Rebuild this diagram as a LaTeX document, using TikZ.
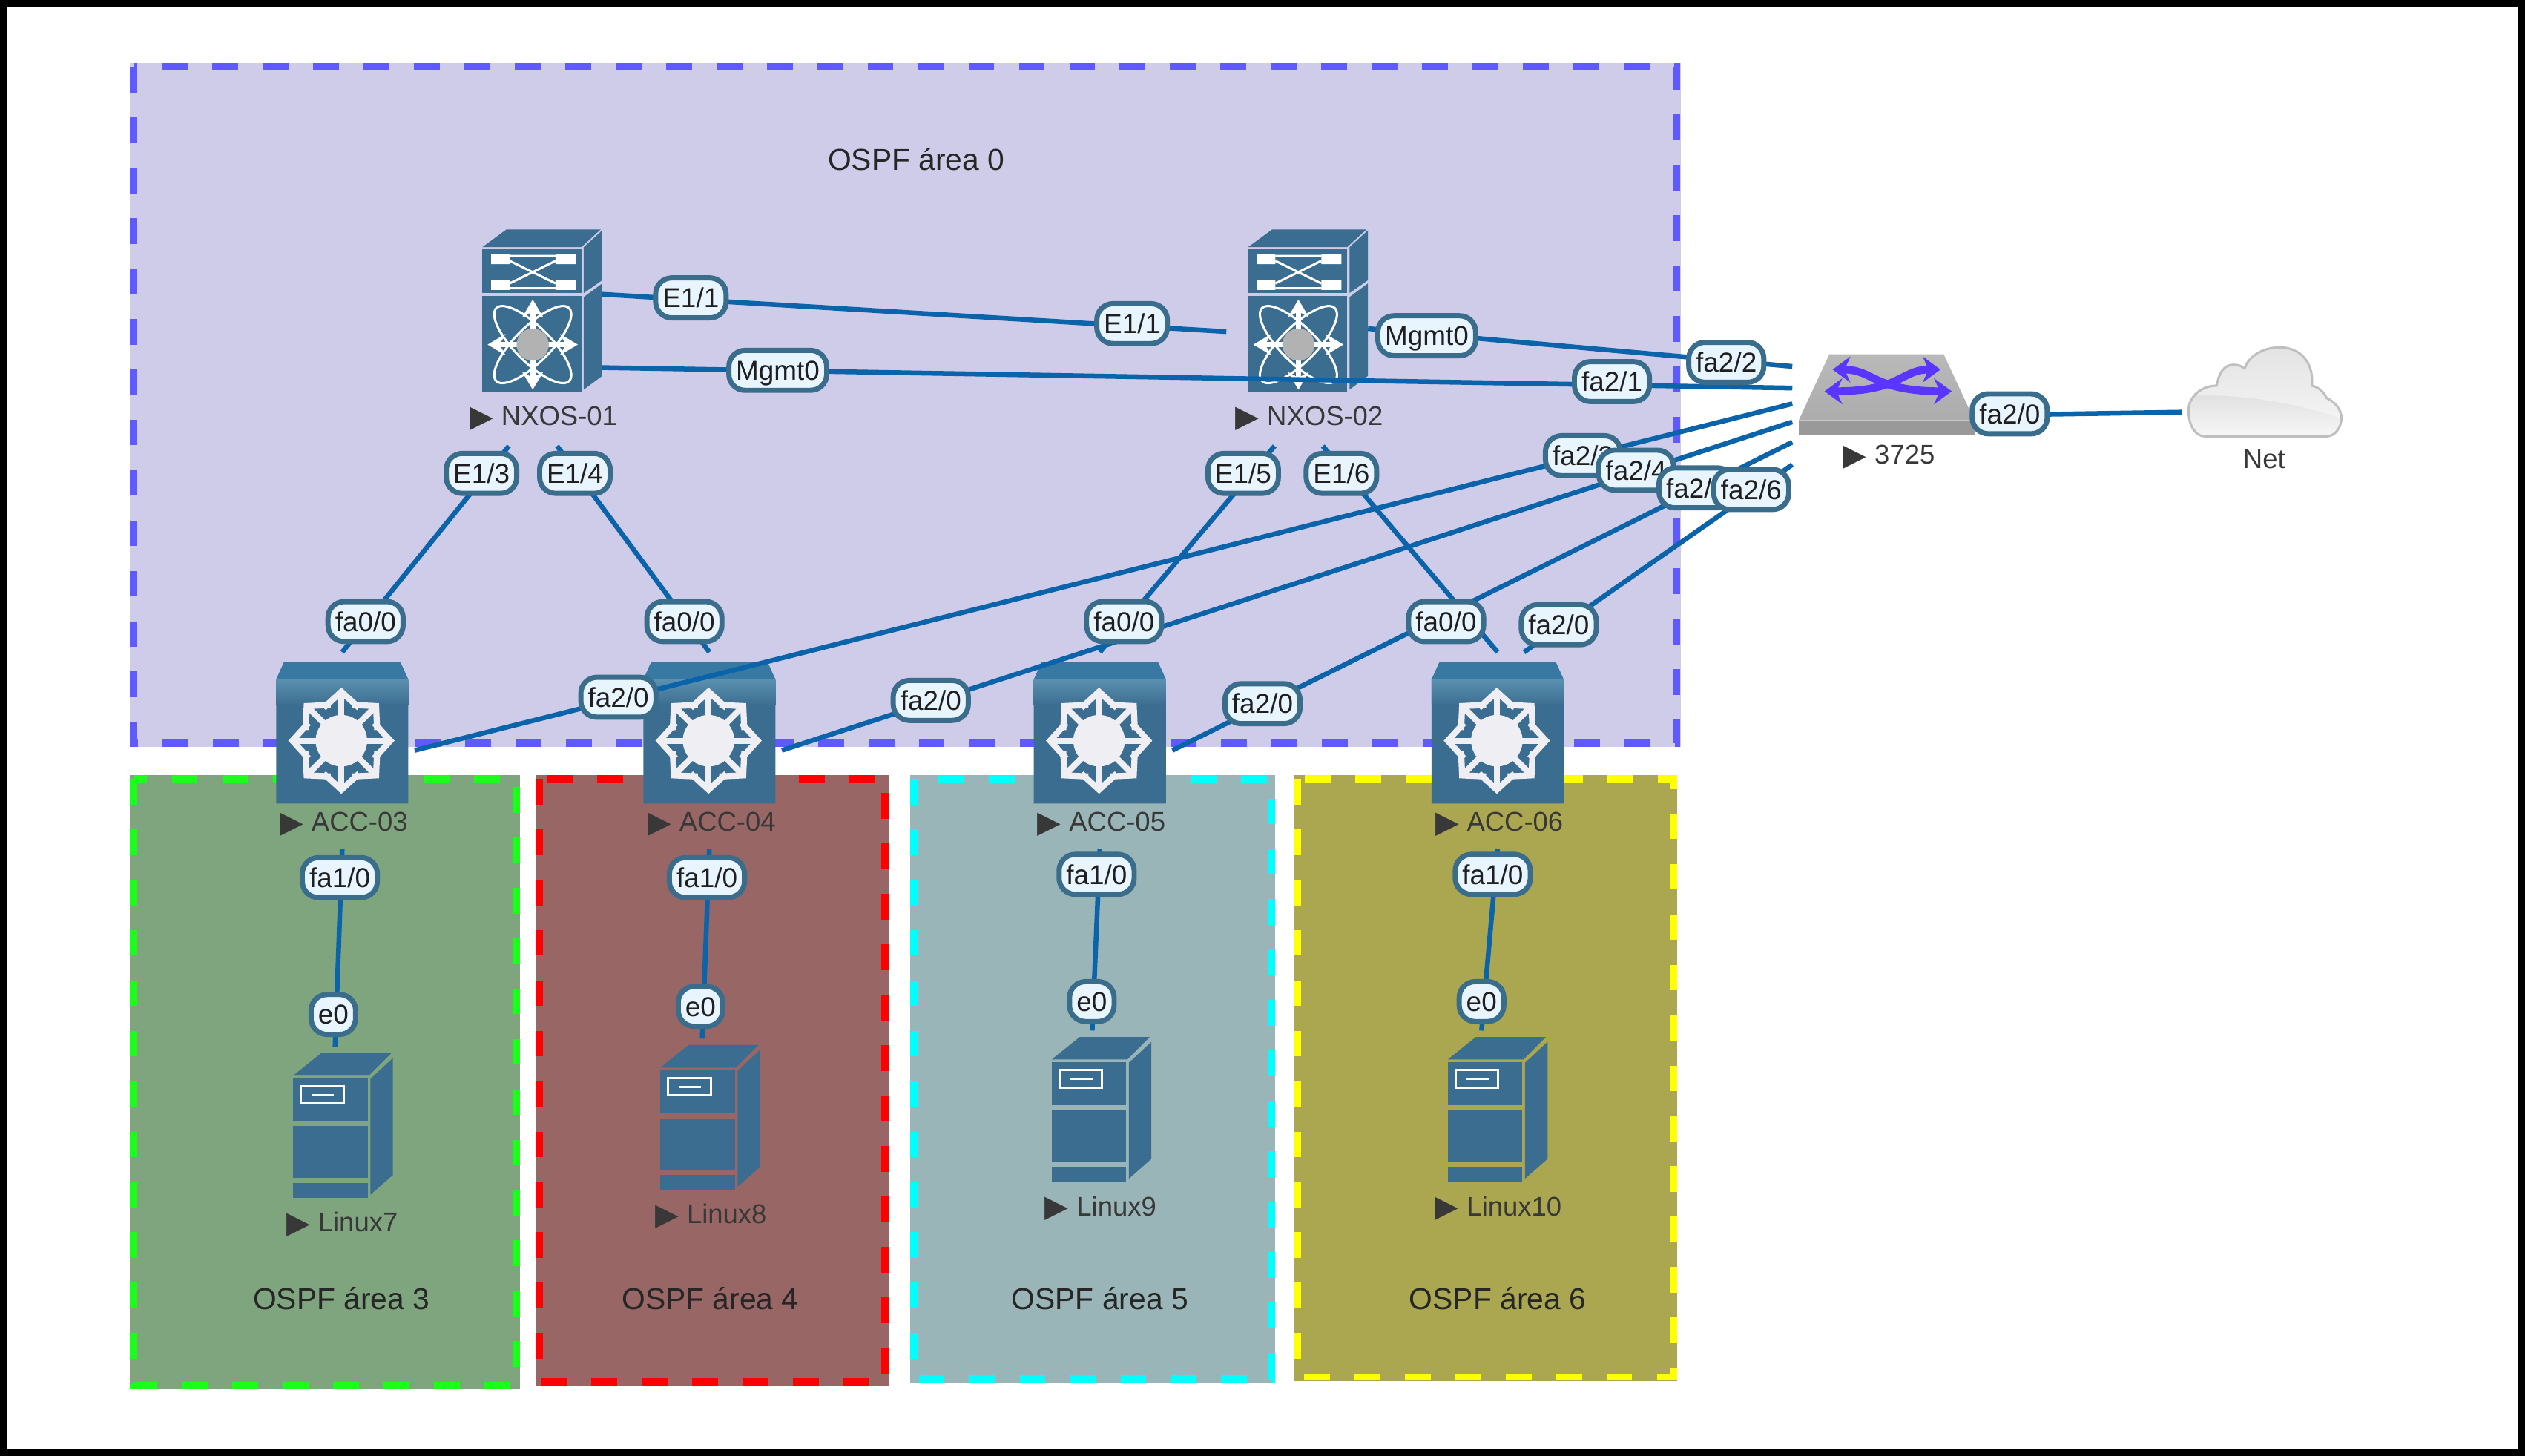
\documentclass[tikz,border=0pt]{standalone}
\usepackage{fontspec}
\setmainfont{Liberation Sans}
\newfontfamily\tagfont{DejaVu Sans}
\usetikzlibrary{arrows.meta, positioning, calc}
\definecolor{devblue}{HTML}{3A6D8F}
\definecolor{devtop}{HTML}{3779A3}
\definecolor{devband}{HTML}{5C90B0}
\definecolor{linkblue}{HTML}{0B64A9}
\definecolor{ifaceedge}{HTML}{3A6C8C}
\definecolor{ifacefill}{HTML}{E8F5FF}
\definecolor{starwhite}{HTML}{EEEEF3}
\definecolor{swarrow}{HTML}{5A35FF}
\definecolor{area0fill}{RGB}{206,204,233}
\definecolor{area0edge}{RGB}{95,90,255}
\definecolor{area3fill}{RGB}{127,165,127}
\definecolor{area3edge}{RGB}{25,255,25}
\definecolor{area4fill}{RGB}{153,102,102}
\definecolor{area4edge}{RGB}{255,0,0}
\definecolor{area5fill}{RGB}{153,181,184}
\definecolor{area5edge}{RGB}{0,255,255}
\definecolor{area6fill}{RGB}{170,167,80}
\definecolor{area6edge}{RGB}{255,255,0}
\tikzset{
  area edge/.style={
    line width=2.25pt, dash pattern=on 8pt off 7.65pt
  },
  area label/.style={
    font=\fontsize{9.4}{11}\selectfont, text=black!85, inner sep=0pt
  },
  dev node/.style={
    rectangle, inner sep=0pt, outer sep=0pt
  },
  dev nexus/.style={dev node, minimum width=37.5pt, minimum height=67pt},
  dev acc/.style={dev node, minimum width=45pt, minimum height=61pt},
  dev srv/.style={dev node, minimum width=31pt, minimum height=47pt},
  dev sw/.style={dev node, minimum width=58.5pt, minimum height=40pt},
  dev cloud/.style={dev node, minimum width=50pt, minimum height=28.5pt},
  dev name/.style={
    font=\fontsize{8.4}{10}\selectfont, text=black!78, inner sep=0pt
  },
  net link/.style={
    draw=linkblue, line width=1.5pt
  },
  net iface/.style={
    rectangle, rounded corners=5pt, draw=ifaceedge, fill=ifacefill,
    line width=1.6pt, minimum height=12.4pt, inner xsep=2.2pt, inner ysep=0pt,
    text height=6.1pt, text depth=0pt,
    font=\fontsize{8.5}{10}\selectfont, text=black!88
  },
  nexus icon/.pic={
    \fill[devblue] (-37,-56.5) -- (-22,-67.5) -- (36.5,-67.5) -- (24.5,-56.5) -- cycle;
    \fill[devblue] (-37,-55) rectangle (24.5,-28);
    \fill[devblue] (-37,-26) rectangle (24.5,33);
    \fill[devblue] (26,-56.5) -- (37.5,-67) -- (37.5,-36) -- (26,-28) -- cycle;
    \fill[devblue] (26,-25.5) -- (37.5,-34) -- (37.5,23.4) -- (26,32) -- cycle;
    \fill[white] (-31.5,-52) rectangle (-20,-46) (8.5,-52) rectangle (21,-46);
    \fill[white] (-31.5,-36) rectangle (-20,-30) (8.5,-36) rectangle (21,-30);
    \draw[white, line width=.7pt] (-20,-48) -- (8.5,-34) (-20,-34) -- (8.5,-48)
      (-20,-51) -- (8.5,-51) (-20,-31) -- (8.5,-31);
    \begin{scope}[shift={(-5.7,4)}]
      \draw[white, line width=.7pt, rotate=45] (0,0) ellipse (32 and 11);
      \draw[white, line width=.7pt, rotate=-45] (0,0) ellipse (32 and 11);
      \foreach \a in {0,90,180,270}
        \draw[white, line width=1.7pt, -{Stealth[length=5.5pt,width=6.5pt]}] (\a:9) -- (\a:28);
      \fill[gray!60] (0,0) circle (10);
    \end{scope}
  },
  acc icon/.pic={
    \fill[devblue] (-36,-55) -- (36,-55) -- (41,-44) -- (41,33) -- (-41,33) -- (-41,-44) -- cycle;
    \fill[devtop] (-36,-55) -- (36,-55) -- (41,-44) -- (-41,-44) -- cycle;
    \shade[top color=devband, bottom color=devblue] (-41,-44) rectangle (41,-28);
    \begin{scope}[shift={(-0.5,-6)}]
      \foreach \a in {0,45,...,315}
        \draw[starwhite, line width=1.9pt, -{Straight Barb[length=5pt,width=11pt]}] (\a:12) -- (\a:33);
      \fill[starwhite] (0,0) circle (16);
    \end{scope}
  },
  server icon/.pic={
    \fill[devblue] (-31,-29) -- (-13.5,-43) -- (30,-43) -- (16,-29) -- cycle;
    \fill[devblue] (-31,-27.4) rectangle (15.3,-0.5);
    \fill[devblue] (-31,2.4) rectangle (15.3,34.7);
    \fill[devblue] (-31,37.6) rectangle (15.3,47);
    \fill[devblue] (17,-27) -- (31,-40) -- (31,32.7) -- (17,45) -- cycle;
    \draw[white, line width=.7pt] (-26,-22.4) rectangle (0.3,-11.7);
    \draw[white, line width=.7pt] (-19.5,-17) -- (-5.6,-17);
  },
  switch icon/.pic={
    \fill[gray!80] (-54.5,1) -- (54.5,1) -- (54.5,10) -- (-54.5,10) -- cycle;
    \shade[top color=gray!55, bottom color=gray!65] (-35.5,-40) -- (35.5,-40) -- (54.5,1) -- (-54.5,1) -- cycle;
    \draw[swarrow, line width=2.4pt, {Stealth[length=5.5pt,width=8pt]}-{Stealth[length=5.5pt,width=8pt]}]
      (-33.5,-30.5) .. controls (-8,-30.5) and (-8,-17) .. (40.5,-17);
    \draw[swarrow, line width=2.4pt, {Stealth[length=5.5pt,width=8pt]}-{Stealth[length=5.5pt,width=8pt]}]
      (-38.5,-17) .. controls (9,-17) and (9,-30.5) .. (33.5,-30.5);
  },
  cloud icon/.pic={
    \def\cloudpath{(-36,27.5) .. controls (-42,27.5) and (-46,20) .. (-46,11.5)
      .. controls (-46,3) and (-38,-4) .. (-28.5,-4)
      .. controls (-27,-12) and (-24,-17) .. (-18,-17)
      .. controls (-15,-17) and (-13,-16) .. (-11,-14.7)
      .. controls (-9,-22) and (0,-27.8) .. (10.6,-27.8)
      .. controls (23,-27.8) and (32,-19) .. (30.6,-4)
      .. controls (35,-3) and (38,0) .. (39.8,3.7)
      .. controls (45,6) and (49,11) .. (49,16)
      .. controls (49,22) and (45,27.5) .. (39.8,27.5) -- cycle}
    \shade[top color=gray!22, bottom color=gray!6] \cloudpath;
    \begin{scope}
      \clip \cloudpath;
      \shade[top color=gray!24, bottom color=gray!5]
        (-50,2) .. controls (-15,1) and (20,6) .. (50,17) -- (50,30) -- (-50,30) -- cycle;
    \end{scope}
    \draw[gray!50, line width=.7pt] \cloudpath;
  }
}
\newcommand{\devtag}{\raisebox{-0.4pt}{\tagfont\fontsize{9.5}{10}\selectfont\symbol{"25B6}}\hspace{2.5pt}}

\begin{document}
\begin{tikzpicture}[x=0.5pt, y=-0.5pt]
  \useasboundingbox (0,0) rectangle (1568,904.2);
  \fill[white] (0,0) rectangle (1568,904.2);
  \draw[black, line width=2.2pt] (2,2) rectangle (1566,902);

  \fill[area0fill] (80.6,39.2) rectangle (1043.6,463.8);
  \draw[area edge, draw=area0edge] (82.9,41.5) rectangle (1041.3,461.5);
  \fill[area3fill] (80.6,481.3) rectangle (323,862.7);
  \draw[area edge, draw=area3edge] (82.9,483.6) rectangle (320.7,860.4);
  \fill[area4fill] (332.6,481.3) rectangle (552,860.5);
  \draw[area edge, draw=area4edge] (334.9,483.6) rectangle (549.7,858.2);
  \fill[area5fill] (565.3,481.3) rectangle (792,858.5);
  \draw[area edge, draw=area5edge] (567.6,483.6) rectangle (789.7,856.2);
  \fill[area6fill] (803.5,481.3) rectangle (1041.5,857.5);
  \draw[area edge, draw=area6edge] (805.8,483.6) rectangle (1039.2,855.2);

  \node (area0) [area label] at (569,99) {OSPF área 0};
  \node (area3) [area label] at (212,806.5) {OSPF área 3};
  \node (area4) [area label] at (441,806.5) {OSPF área 4};
  \node (area5) [area label] at (683,806.5) {OSPF área 5};
  \node (area6) [area label] at (930,806.5) {OSPF área 6};

  \node (nxos1) [dev nexus] at (336.5,210) {};
  \node (nxos2) [dev nexus] at (812,210) {};
  \node (acc3) [dev acc] at (212.5,466) {};
  \node (acc4) [dev acc] at (440.5,466) {};
  \node (acc5) [dev acc] at (683,466) {};
  \node (acc6) [dev acc] at (930,466) {};
  \node (lin7) [dev srv] at (213,697) {};
  \node (lin8) [dev srv] at (441,692) {};
  \node (lin9) [dev srv] at (684,687) {};
  \node (lin10) [dev srv] at (930,687) {};
  \node (sw3725) [dev sw] at (1171.5,260) {};
  \node (cloudnet) [dev cloud] at (1405,243.5) {};

  \pic at (nxos1) {nexus icon};
  \pic at (nxos2) {nexus icon};
  \pic at (acc3) {acc icon};
  \pic at (acc4) {acc icon};
  \pic at (acc5) {acc icon};
  \pic at (acc6) {acc icon};
  \pic at (lin7) {server icon};
  \pic at (lin8) {server icon};
  \pic at (lin9) {server icon};
  \pic at (lin10) {server icon};
  \pic at (sw3725) {switch icon};
  \pic at (cloudnet) {cloud icon};

  \node (nameN1) [dev name] at (337.5,260) {\devtag NXOS-01};
  \node (nameN2) [dev name] at (813,260) {\devtag NXOS-02};
  \node (nameA3) [dev name] at (213.5,512) {\devtag ACC-03};
  \node (nameA4) [dev name] at (442,512) {\devtag ACC-04};
  \node (nameA5) [dev name] at (684,512) {\devtag ACC-05};
  \node (nameA6) [dev name] at (931,512) {\devtag ACC-06};
  \node (nameL7) [dev name] at (212.5,760.5) {\devtag Linux7};
  \node (nameL8) [dev name] at (441.5,755.5) {\devtag Linux8};
  \node (nameL9) [dev name] at (683.5,750.5) {\devtag Linux9};
  \node (nameL10) [dev name] at (930.5,750.5) {\devtag Linux10};
  \node (nameSw) [dev name] at (1173,284) {\devtag 3725};
  \node (nameNet) [dev name] at (1406,285) {Net};

  \draw [net link, shorten >=6.5pt] (nxos1.36.7) -- (nxos2.175);
  \draw [net link] (nxos1.-26.9) -- (sw3725.162.9);
  \draw [net link] (nxos2.9.2) -- (sw3725.151.3);
  \draw [net link] (nxos1.-107) -- (acc3.north);
  \draw [net link] (nxos1.-82.8) -- (acc4.north);
  \draw [net link] (nxos2.-107) -- (acc5.north);
  \draw [net link] (nxos2.-82.8) -- (acc6.north);
  \draw [net link] (acc3.east) -- (sw3725.171.3);
  \draw [net link] (acc4.east) -- (sw3725.182.9);
  \draw [net link] (acc5.east) -- (sw3725.194.8);
  \draw [net link] (acc6.75) -- (sw3725.206.1);
  \draw [net link] (acc3.south) -- (lin7.96);
  \draw [net link] (acc4.south) -- (lin8.96);
  \draw [net link] (acc5.south) -- (lin9.97);
  \draw [net link] (acc6.south) -- (lin10.102);
  \draw [net link] (sw3725.2.9) -- (cloudnet.194);

  \node (ifA) [net iface] at (429,185) {E1/1};
  \node (ifB) [net iface] at (703,201) {E1/1};
  \node (ifC) [net iface] at (483,230) {Mgmt0};
  \node (ifD) [net iface] at (1001,237) {fa2/1};
  \node (ifE) [net iface] at (886,208.5) {Mgmt0};
  \node (ifF) [net iface] at (1072,225) {fa2/2};
  \node (ifG) [net iface] at (299,294) {E1/3};
  \node (ifH) [net iface] at (357,294) {E1/4};
  \node (ifI) [net iface] at (772,294) {E1/5};
  \node (ifJ) [net iface] at (833,294) {E1/6};
  \node (ifK) [net iface] at (227,386) {fa0/0};
  \node (ifL) [net iface] at (425,386) {fa0/0};
  \node (ifM) [net iface] at (698,386) {fa0/0};
  \node (ifN) [net iface] at (898,386) {fa0/0};
  \node (ifO) [net iface] at (384,433) {fa2/0};
  \node (ifP) [net iface] at (578,435) {fa2/0};
  \node (ifQ) [net iface] at (784,437) {fa2/0};
  \node (ifR) [net iface] at (968,388) {fa2/0};
  \node (ifS) [net iface] at (983,283) {fa2/3};
  \node (ifT) [net iface] at (1016,292) {fa2/4};
  \node (ifU) [net iface] at (1053.5,303) {fa2/5};
  \node (ifV) [net iface] at (1087.5,304) {fa2/6};
  \node (ifW) [net iface] at (1248,257) {fa2/0};
  \node (ifX) [net iface] at (211,545) {fa1/0};
  \node (ifY) [net iface] at (439,545) {fa1/0};
  \node (ifZ) [net iface] at (681,543) {fa1/0};
  \node (ifAA) [net iface] at (927,543) {fa1/0};
  \node (ifAB) [net iface] at (207,630) {e0};
  \node (ifAC) [net iface] at (435,625) {e0};
  \node (ifAD) [net iface] at (678,622) {e0};
  \node (ifAE) [net iface] at (920,622) {e0};
\end{tikzpicture}
\end{document}
